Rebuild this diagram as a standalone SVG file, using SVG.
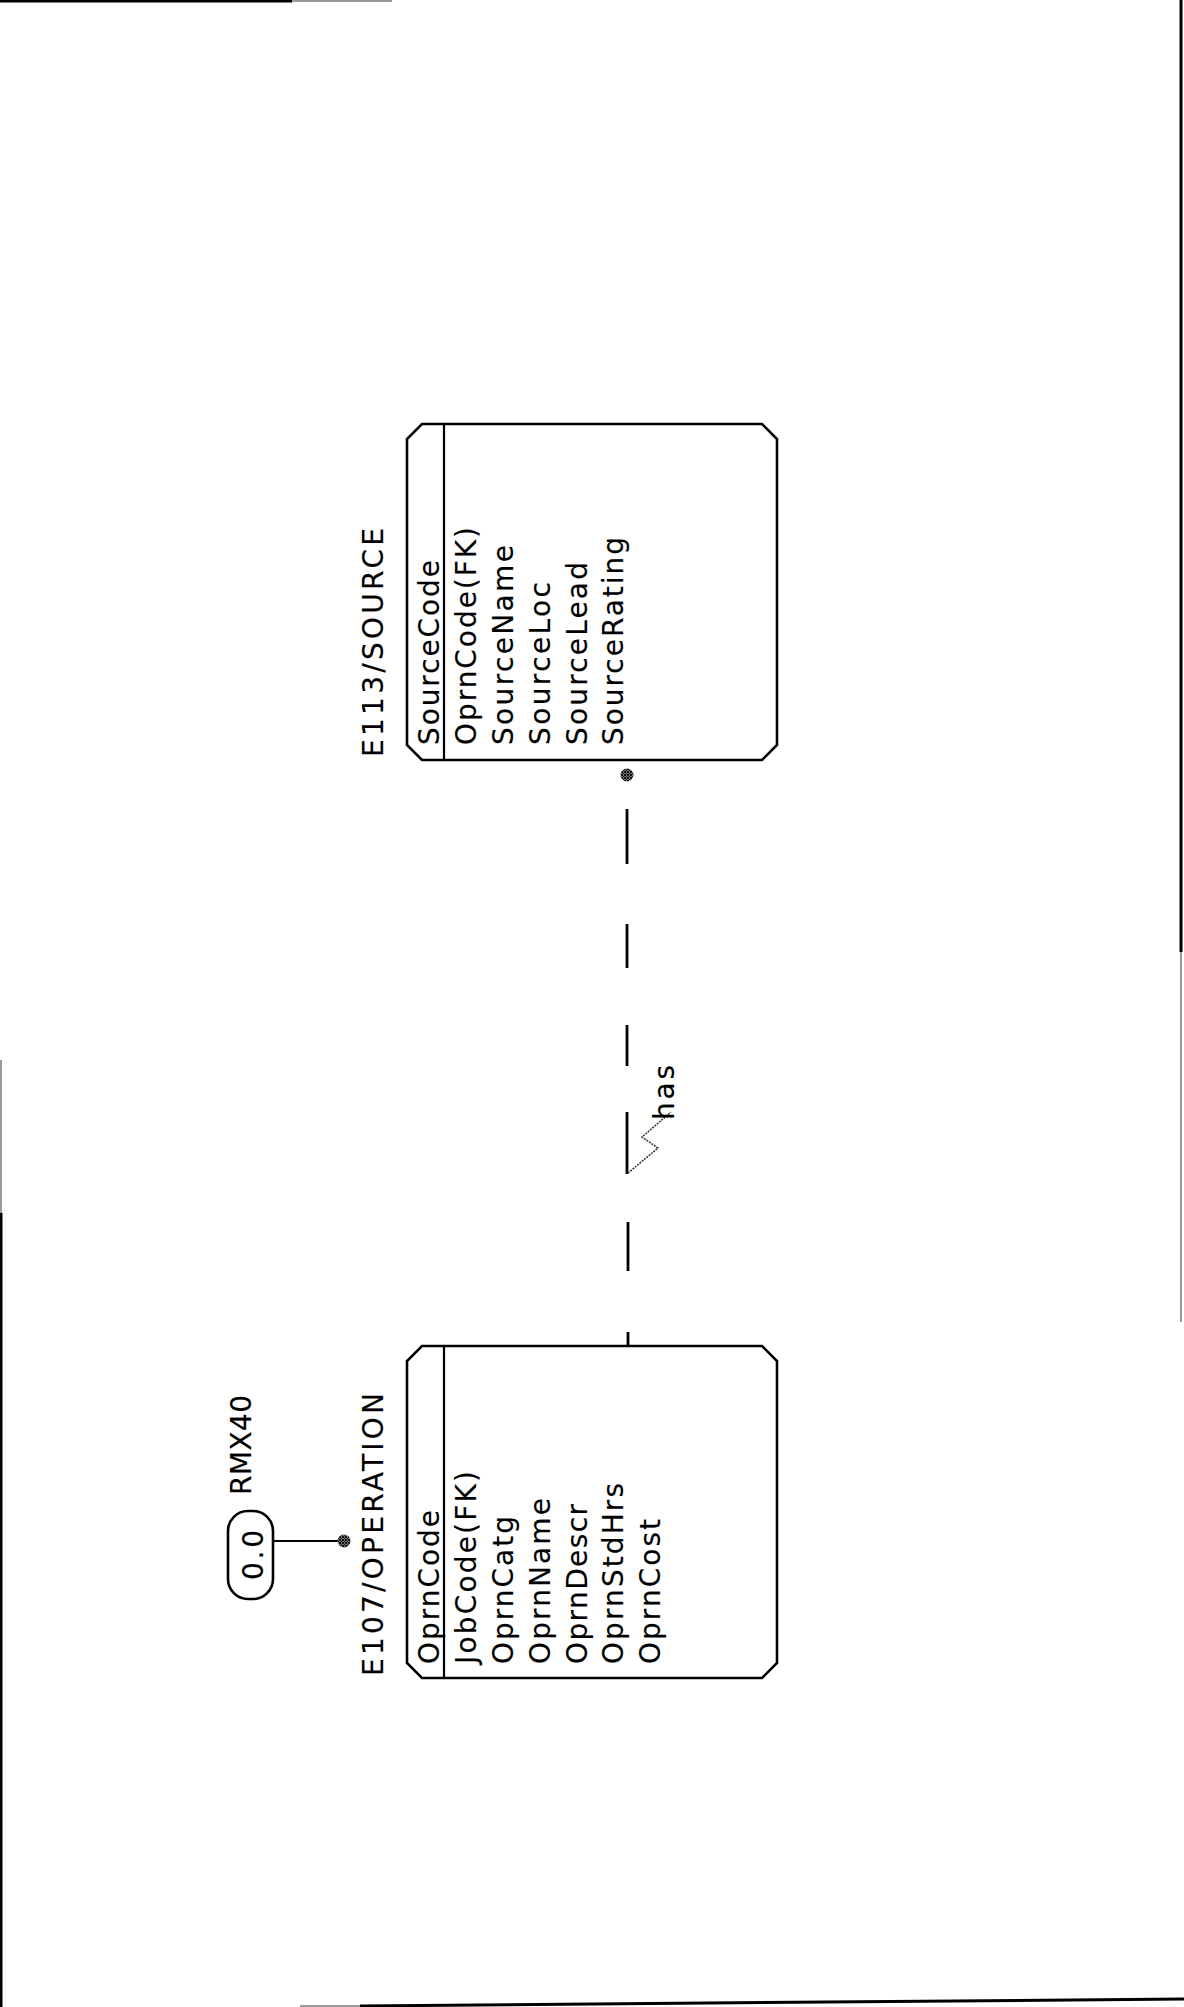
<svg xmlns="http://www.w3.org/2000/svg" width="1184" height="2007" viewBox="0 0 1184 2007">
  <style>
    .bg { fill: #ffffff; }
    .frame { fill: none; stroke: #000; stroke-width: 3; }
    .frame-faint { fill: none; stroke: #9a9a9a; stroke-width: 2; }
    .entity { fill: none; stroke: #000; stroke-width: 2.6; stroke-linejoin: miter; }
    .divider { stroke: #000; stroke-width: 2.2; }
    .lbl { font-family: "DejaVu Sans", "Liberation Sans", sans-serif; font-size: 28px; fill: #000; stroke: #000; stroke-width: 0.15; }
    .rel { stroke: #000; stroke-width: 2.8; fill: none; }
    .leader { stroke: #333; stroke-width: 1.5; stroke-dasharray: 2 1; fill: none; }
    .thin { stroke: #000; stroke-width: 1.8; fill: none; }
    .joint { fill: url(#stipple); }
  </style>
  <defs>
    <pattern id="stipple" width="3" height="3" patternUnits="userSpaceOnUse">
      <rect width="3" height="3" fill="#777777"/>
      <rect width="2" height="2" fill="#111111"/>
      <rect x="2" y="2" width="1" height="1" fill="#111111"/>
    </pattern>
  </defs>

  <rect class="bg" width="1184" height="2007"/>

  <!-- sheet border fragments -->
  <g id="sheet-border">
    <line class="frame" x1="0" y1="1" x2="292" y2="1"/>
    <line class="frame-faint" x1="292" y1="1" x2="392" y2="1"/>
    <line class="frame" x1="1181" y1="0" x2="1181" y2="952"/>
    <line class="frame-faint" x1="1181" y1="952" x2="1181" y2="1322"/>
    <line class="frame-faint" x1="1" y1="1060" x2="1" y2="1213"/>
    <line class="frame" x1="1" y1="1213" x2="1" y2="2007"/>
    <line class="frame-faint" x1="300" y1="2006" x2="360" y2="2006"/>
    <line class="frame" x1="360" y1="2006" x2="1184" y2="1999"/>
  </g>

  <!-- connectors -->
  <g id="connectors">
    <!-- RMX40 reference to OPERATION -->
    <line class="thin" x1="273" y1="1541" x2="344" y2="1541"/>
    <circle class="joint" cx="344" cy="1541" r="6.5"/>
    <!-- "has" relationship, SOURCE side dot, dashed run to OPERATION -->
    <circle class="joint" cx="627" cy="775" r="6.5"/>
    <line class="rel" x1="627" y1="809" x2="627" y2="864"/>
    <line class="rel" x1="627" y1="924" x2="627" y2="968"/>
    <line class="rel" x1="627" y1="1025" x2="627" y2="1066"/>
    <line class="rel" x1="627" y1="1112" x2="627" y2="1174"/>
    <line class="rel" x1="628" y1="1222" x2="628" y2="1271"/>
    <line class="rel" x1="628" y1="1332" x2="628" y2="1346"/>
    <!-- lightning leader to the verb phrase -->
    <polyline class="leader" points="628,1173 658,1148 642,1137 671,1112"/>
    <text class="lbl" x="674" y="1120" transform="rotate(-90 674 1120)" textLength="55" lengthAdjust="spacing">has</text>
  </g>

  <!-- E113/SOURCE -->
  <g id="node-source">
    <text class="lbl" x="383" y="757" transform="rotate(-90 383 757)" textLength="229" lengthAdjust="spacing">E113/SOURCE</text>
    <polygon class="entity" points="422,424 762,424 777,439 777,745 762,760 422,760 407,745 407,439"/>
    <line class="divider" x1="444" y1="424" x2="444" y2="760"/>
    <text class="lbl" x="439" y="745" transform="rotate(-90 439 745)" textLength="185" lengthAdjust="spacing">SourceCode</text>
    <text class="lbl" x="476" y="745" transform="rotate(-90 476 745)" textLength="218" lengthAdjust="spacing">OprnCode(FK)</text>
    <text class="lbl" x="513" y="745" transform="rotate(-90 513 745)" textLength="200" lengthAdjust="spacing">SourceName</text>
    <text class="lbl" x="550" y="745" transform="rotate(-90 550 745)" textLength="163" lengthAdjust="spacing">SourceLoc</text>
    <text class="lbl" x="587" y="745" transform="rotate(-90 587 745)" textLength="183" lengthAdjust="spacing">SourceLead</text>
    <text class="lbl" x="623" y="745" transform="rotate(-90 623 745)" textLength="208" lengthAdjust="spacing">SourceRating</text>
  </g>

  <!-- RMX40 off-page reference -->
  <g id="node-rmx40">
    <text class="lbl" x="251" y="1495" transform="rotate(-90 251 1495)" textLength="100" lengthAdjust="spacing">RMX40</text>
    <rect class="entity" x="228" y="1511" width="45" height="88" rx="20" ry="20"/>
    <text class="lbl" x="263" y="1580" transform="rotate(-90 263 1580)" textLength="50" lengthAdjust="spacing">0.0</text>
  </g>

  <!-- E107/OPERATION -->
  <g id="node-operation">
    <text class="lbl" x="383" y="1676" transform="rotate(-90 383 1676)" textLength="283" lengthAdjust="spacing">E107/OPERATION</text>
    <polygon class="entity" points="422,1346 762,1346 777,1361 777,1663 762,1678 422,1678 407,1663 407,1361"/>
    <line class="divider" x1="444" y1="1346" x2="444" y2="1678"/>
    <text class="lbl" x="439" y="1664" transform="rotate(-90 439 1664)" textLength="154" lengthAdjust="spacing">OprnCode</text>
    <text class="lbl" x="476" y="1664" transform="rotate(-90 476 1664)" textLength="193" lengthAdjust="spacing">JobCode(FK)</text>
    <text class="lbl" x="513" y="1664" transform="rotate(-90 513 1664)" textLength="148" lengthAdjust="spacing">OprnCatg</text>
    <text class="lbl" x="550" y="1664" transform="rotate(-90 550 1664)" textLength="166" lengthAdjust="spacing">OprnName</text>
    <text class="lbl" x="587" y="1664" transform="rotate(-90 587 1664)" textLength="160" lengthAdjust="spacing">OprnDescr</text>
    <text class="lbl" x="623" y="1664" transform="rotate(-90 623 1664)" textLength="181" lengthAdjust="spacing">OprnStdHrs</text>
    <text class="lbl" x="660" y="1664" transform="rotate(-90 660 1664)" textLength="145" lengthAdjust="spacing">OprnCost</text>
  </g>
</svg>
